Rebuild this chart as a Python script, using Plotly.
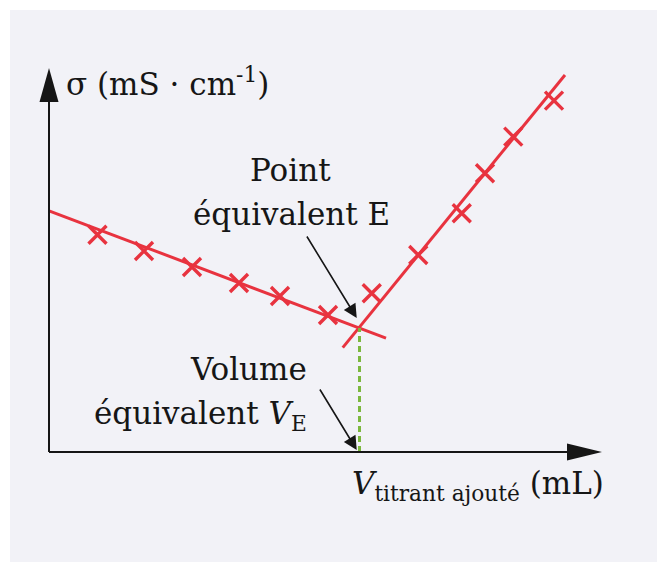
import plotly.graph_objects as go

# ---- data (arbitrary units: volume in mL, conductivity in mS/cm) ----
vol_before = [1.94, 3.80, 5.72, 7.60, 9.24, 11.16]
sig_before = [10.86, 10.05, 9.25, 8.45, 7.80, 6.85]
vol_after = [12.91, 14.77, 16.51, 17.44, 18.57, 20.20]
sig_after = [7.94, 9.85, 11.94, 13.94, 15.77, 17.57]

fit1_x = [0.0, 13.48]
fit1_y = [12.06, 5.69]
fit2_x = [11.75, 20.64]
fit2_y = [5.22, 18.85]

V_E = 12.42
SIG_E = 6.20

# axis extents (data units)
X_TIP = 22.12
Y_TIP = 19.2

# pixel scale of the drawing
PX_X = 25.0   # px per mL
PX_Y = 20.0   # px per unit sigma
W, H = 665, 562
PAGE_OFF = 8          # browser body margin
X0PX, Y0PX = 49 - PAGE_OFF, 452 - PAGE_OFF

RED = "#e8333f"
GREEN = "#7cb83e"
INK = "#161616"
FONT = "DejaVu Serif"
FS = 31

def dx(px):
    return px / PX_X

def dy(px):
    return px / PX_Y

fig = go.Figure()

# fitted lines
fig.add_trace(go.Scatter(x=fit1_x, y=fit1_y, mode="lines",
                         line=dict(color=RED, width=3), hoverinfo="skip"))
fig.add_trace(go.Scatter(x=fit2_x, y=fit2_y, mode="lines",
                         line=dict(color=RED, width=3), hoverinfo="skip"))
# measured points
fig.add_trace(go.Scatter(x=vol_before + vol_after, y=sig_before + sig_after,
                         mode="markers",
                         marker=dict(symbol="x-thin", size=18,
                                     line=dict(color=RED, width=3.4))))
# equivalence dashed line
fig.add_trace(go.Scatter(x=[V_E, V_E], y=[0, SIG_E], mode="lines",
                         line=dict(color=GREEN, width=3, dash="6px,4px")))

shapes = []
# background panel
shapes.append(dict(type="rect", xref="paper", yref="paper",
                   x0=(10 - PAGE_OFF) / W, x1=1, y0=0, y1=1 - (10 - PAGE_OFF) / H,
                   fillcolor="#f2f2f7", line=dict(width=0), layer="below"))
# axes lines
shapes.append(dict(type="line", x0=0, y0=0, x1=X_TIP - dx(30), y1=0,
                   line=dict(color=INK, width=2)))
shapes.append(dict(type="line", x0=0, y0=0, x1=0, y1=Y_TIP - dy(30),
                   line=dict(color=INK, width=2)))
# arrow heads
hx = dx(35); hw = dy(8.5)
shapes.append(dict(type="path",
                   path=f"M {X_TIP},0 L {X_TIP - hx},{hw} L {X_TIP - hx},{-hw} Z",
                   fillcolor=INK, line=dict(width=0)))
hy = dy(34); hv = dx(9.5)
shapes.append(dict(type="path",
                   path=f"M 0,{Y_TIP} L {-hv},{Y_TIP - hy} L {hv},{Y_TIP - hy} Z",
                   fillcolor=INK, line=dict(width=0)))

ann = []
def text(t, x, y, xanchor="center", size=FS):
    ann.append(dict(text=t, x=x, y=y, xref="x", yref="y", showarrow=False,
                    xanchor=xanchor, yanchor="middle",
                    font=dict(family=FONT, size=size, color=INK)))

text("σ (mS · cm<sup>-1</sup>)", 0.60, 18.5, xanchor="left")
text("<i>V</i><sub>titrant ajouté</sub> (mL)", 12.04, -1.65, xanchor="left")
text("Point", 9.64, 14.1)
text("équivalent E", 9.68, 11.9)
text("Volume", 10.4, 4.15, xanchor="right")
text("équivalent <i>V</i><sub>E</sub>", 10.4, 1.82, xanchor="right")

def arrow(tail, tip):
    ann.append(dict(text="", x=tip[0], y=tip[1], ax=tail[0], ay=tail[1],
                    xref="x", yref="y", axref="x", ayref="y",
                    showarrow=True, arrowhead=2, arrowsize=1.7, arrowwidth=1.6,
                    arrowcolor=INK, standoff=0, startstandoff=0))

arrow((10.28, 10.85), (12.31, 6.70))
arrow((10.80, 3.20), (12.31, 0.10))

fig.update_layout(
    width=W, height=H,
    margin=dict(l=0, r=0, t=0, b=0),
    paper_bgcolor="white", plot_bgcolor="rgba(0,0,0,0)",
    showlegend=False,
    shapes=shapes, annotations=ann,
    xaxis=dict(range=[-X0PX / PX_X, (W - X0PX) / PX_X], visible=False,
               fixedrange=True),
    yaxis=dict(range=[-(H - Y0PX) / PX_Y, Y0PX / PX_Y], visible=False,
               fixedrange=True),
)

fig.write_html("out.html")
